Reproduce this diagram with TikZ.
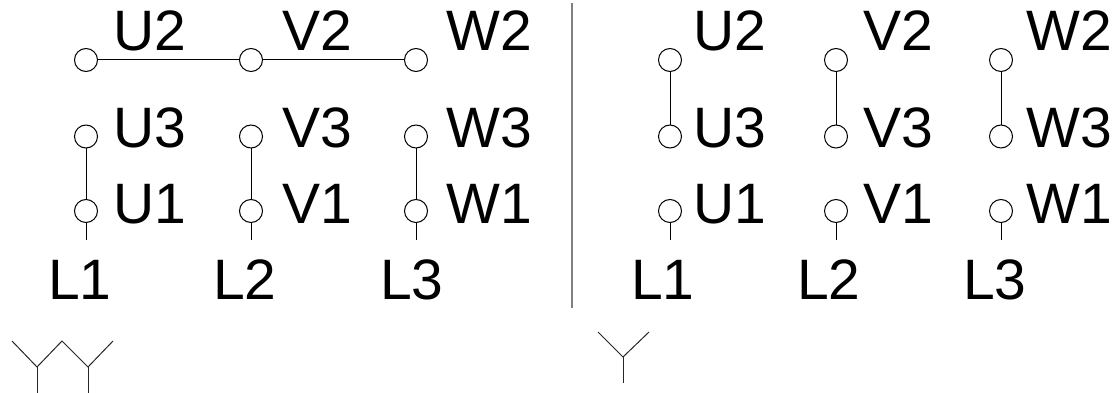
\documentclass[tikz,border=0pt]{standalone}
\usepackage{fontspec}
\setmainfont{Liberation Sans}
\begin{document}
\begin{tikzpicture}[x=1pt,y=-1pt,
  term/.style={circle,draw=black,line width=1pt,minimum size=23pt,inner sep=0pt,outer sep=0pt},
  lbl/.style={anchor=base west,inner sep=0pt,outer sep=0pt,font=\fontsize{57pt}{60pt}\selectfont},
  wire/.style={line width=1pt,black},
  divider/.style={line width=2pt,draw=black!50},
  sym/.style={line width=1pt,black!85}]
\useasboundingbox (0,0) rectangle (1117,393);
% ---------- left panel (double star) ----------
\node[term] (lu2) at (86,60) {};
\node[term] (lv2) at (251,60) {};
\node[term] (lw2) at (416,60) {};
\node[term] (lu3) at (86,136.5) {};
\node[term] (lv3) at (251,136.5) {};
\node[term] (lw3) at (416,136.5) {};
\node[term] (lu1) at (86,211) {};
\node[term] (lv1) at (251,211) {};
\node[term] (lw1) at (416,211) {};
\coordinate (lu1e) at (86,240);
\coordinate (lv1e) at (251,240);
\coordinate (lw1e) at (416,240);
\draw[wire] (lu2) -- (lv2);
\draw[wire] (lv2) -- (lw2);
\draw[wire] (lu3) -- (lu1);
\draw[wire] (lv3) -- (lv1);
\draw[wire] (lw3) -- (lw1);
\draw[wire] (lu1) -- (lu1e);
\draw[wire] (lv1) -- (lv1e);
\draw[wire] (lw1) -- (lw1e);
\node[lbl] (tlu2) at (113.5,51) {U2};
\node[lbl] (tlv2) at (282,51) {V2};
\node[lbl] (tlw2) at (446.5,51) {W2};
\node[lbl] (tlu3) at (113.5,148) {U3};
\node[lbl] (tlv3) at (282,148) {V3};
\node[lbl] (tlw3) at (446.5,148) {W3};
\node[lbl] (tlu1) at (113.5,223) {U1};
\node[lbl] (tlv1) at (282,223) {V1};
\node[lbl] (tlw1) at (446.5,223) {W1};
\node[lbl] (tll1) at (48,299) {L1};
\node[lbl] (tll2) at (213,299) {L2};
\node[lbl] (tll3) at (380,299) {L3};
% double-star symbol
\draw[sym] (12,341) -- (37,367) -- (62,341) -- (88,367) -- (113,341);
\draw[sym] (37,367) -- (37,393);
\draw[sym] (88,367) -- (88,393);
% ---------- divider ----------
\coordinate (dtop) at (572,3);
\coordinate (dbot) at (572,308);
\draw[divider] (dtop) -- (dbot);
% ---------- right panel (star) ----------
\node[term] (ru2) at (670,60) {};
\node[term] (rv2) at (836,60) {};
\node[term] (rw2) at (1001,60) {};
\node[term] (ru3) at (670,136.5) {};
\node[term] (rv3) at (836,136.5) {};
\node[term] (rw3) at (1001,136.5) {};
\node[term] (ru1) at (670,211) {};
\node[term] (rv1) at (836,211) {};
\node[term] (rw1) at (1001,211) {};
\coordinate (ru1e) at (670,240);
\coordinate (rv1e) at (836,240);
\coordinate (rw1e) at (1001,240);
\draw[wire] (ru2) -- (ru3);
\draw[wire] (rv2) -- (rv3);
\draw[wire] (rw2) -- (rw3);
\draw[wire] (ru1) -- (ru1e);
\draw[wire] (rv1) -- (rv1e);
\draw[wire] (rw1) -- (rw1e);
\node[lbl] (tru2) at (693.5,51) {U2};
\node[lbl] (trv2) at (863,51) {V2};
\node[lbl] (trw2) at (1026.5,51) {W2};
\node[lbl] (tru3) at (693.5,148) {U3};
\node[lbl] (trv3) at (863,148) {V3};
\node[lbl] (trw3) at (1026.5,148) {W3};
\node[lbl] (tru1) at (693.5,223) {U1};
\node[lbl] (trv1) at (863,223) {V1};
\node[lbl] (trw1) at (1026.5,223) {W1};
\node[lbl] (trl1) at (631,299) {L1};
\node[lbl] (trl2) at (797,299) {L2};
\node[lbl] (trl3) at (963,299) {L3};
% star symbol
\draw[sym] (598,332) -- (623,357) -- (649,332);
\draw[sym] (623,357) -- (623,383);
\end{tikzpicture}
\end{document}
